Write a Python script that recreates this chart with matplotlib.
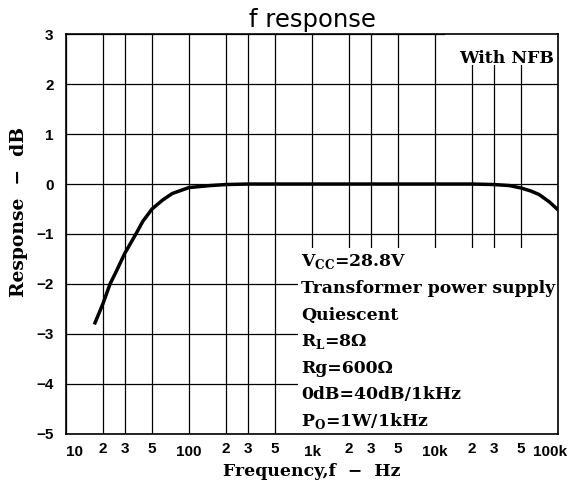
import matplotlib
matplotlib.use("Agg")
from matplotlib import pyplot as plt
from matplotlib.patches import Rectangle
from matplotlib.transforms import ScaledTranslation

FREQ = [17, 20, 22.8, 25.6, 30, 37, 42, 50, 61, 73, 100, 150, 200, 300, 500,
        1000, 5000, 10000, 20000, 30000, 40000, 50000, 60000, 70000, 85000, 100000]
RESP = [-2.81, -2.39, -2.0, -1.75, -1.39, -1.0, -0.75, -0.50, -0.32, -0.19,
        -0.07, -0.03, -0.01, 0, 0, 0, 0, 0, 0, -0.01, -0.03, -0.08, -0.14,
        -0.21, -0.36, -0.52]

XTICKS = [10, 20, 30, 50, 100, 200, 300, 500, 1000, 2000, 3000, 5000,
          10000, 20000, 30000, 50000, 100000]
XTICK_LABELS = ['10', '2', '3', '5', '100', '2', '3', '5', '1k', '2', '3', '5',
                '10k', '2', '3', '5', '100k']
YTICKS = [-5, -4, -3, -2, -1, 0, 1, 2, 3]

NOTES = [r'V$_{\rm CC}$=28.8V', 'Transformer power supply', 'Quiescent',
         r'R$_{\rm L}$=8Ω', 'Rg=600Ω', '0dB=40dB/1kHz', r'P$_{\rm O}$=1W/1kHz']

plt.rcParams['mathtext.fontset'] = 'custom'
plt.rcParams['mathtext.rm'] = 'DejaVu Serif:bold'

SERIF = dict(family='DejaVu Serif', weight='bold')
FS = 12.4
TICKFONT = dict(family=['Liberation Sans', 'DejaVu Sans'], weight='bold', size=11)

fig = plt.figure(figsize=(5.69, 4.88), dpi=100)
ax = fig.add_axes([0.116, 0.111, 0.865, 0.819])

ax.set_xscale('log')
ax.set_xlim(10, 100000)
ax.set_ylim(-5, 3)

ax.set_xticks(XTICKS)
ax.set_xticklabels(XTICK_LABELS, **TICKFONT)
ax.xaxis.set_minor_locator(matplotlib.ticker.NullLocator())
ax.set_yticks(YTICKS)
ax.set_yticklabels([str(v).replace('-', '\u2212') for v in YTICKS], **TICKFONT)
ax.tick_params(length=0)
ax.tick_params(axis='x', pad=6)
ax.tick_params(axis='y', pad=9)
ax.grid(True, color='black', linewidth=0.9)

# decade labels sit a little lower, the end ones pulled inside
for lab, t in zip(ax.get_xticklabels(), XTICK_LABELS):
    dx = 0
    if t == '10':
        dx = 8
    elif t == '100k':
        dx = -8
    dy = -3 if t in ('10', '100', '1k', '10k', '100k') else 0
    lab.set_transform(lab.get_transform() + ScaledTranslation(dx / 100, dy / 100, fig.dpi_scale_trans))

for s in ax.spines.values():
    s.set_linewidth(1.2)

# white areas that hide the grid behind the notes
ax.add_patch(Rectangle((770, -5), 100000 - 770, 3.72, facecolor='white',
                       edgecolor='none', zorder=2.5))
ax.add_patch(Rectangle((12000, 2.38), 100000 - 12000, 0.62, facecolor='white',
                       edgecolor='none', zorder=2.5))

ax.plot(FREQ, RESP, color='black', linewidth=2.5, zorder=4,
        solid_capstyle='butt', solid_joinstyle='round')

ax.text(0.992, 0.94, 'With NFB', transform=ax.transAxes, ha='right', va='center',
        fontsize=FS, zorder=5, **SERIF)

y0 = 0.43
for i, t in enumerate(NOTES):
    ax.text(0.478, y0 - i * 0.0665, t, transform=ax.transAxes, ha='left',
            va='center', fontsize=FS, zorder=5, **SERIF)

ax.set_title('f response', fontsize=17.5, family='DejaVu Sans', pad=5)
ax.set_xlabel('Frequency,f  \u2212  Hz', fontsize=12.4, **SERIF)
ax.xaxis.set_label_coords(0.5, -0.072)
ax.set_ylabel('Response  \u2212  dB', fontsize=13.5, **SERIF)
ax.yaxis.set_label_coords(-0.077, 0.555)

fig.savefig('out.png', dpi=100)
